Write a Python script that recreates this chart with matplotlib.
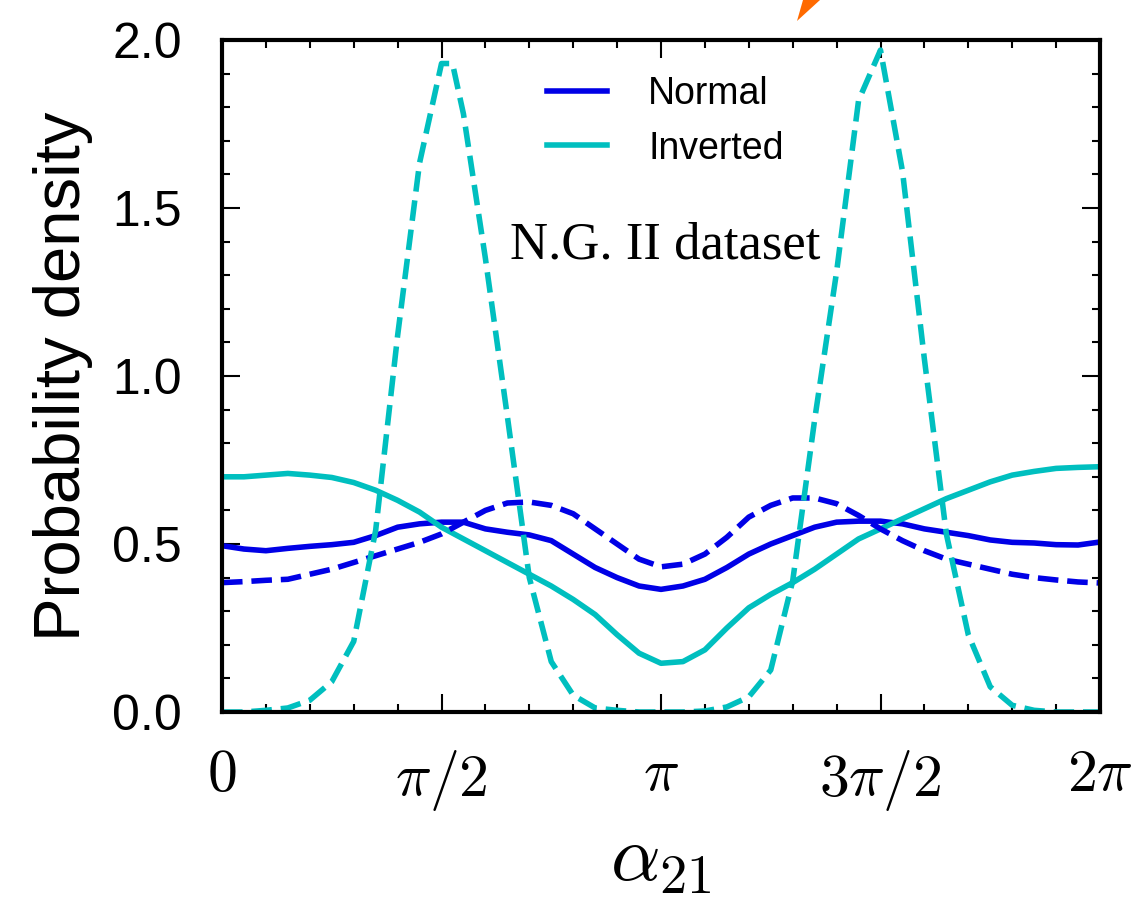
import numpy as np
import matplotlib
matplotlib.use("Agg")
import matplotlib.pyplot as plt
from matplotlib.patches import Polygon

plt.rcParams['font.family'] = ['Liberation Sans', 'DejaVu Sans']
plt.rcParams['mathtext.fontset'] = 'cm'

# grid index k -> alpha = k*pi/20
k = np.arange(41)
alpha = k * np.pi / 20

normal_solid = [0.495, 0.485, 0.48, 0.487, 0.493, 0.498, 0.505, 0.525, 0.55, 0.56,
                0.565, 0.565, 0.545, 0.535, 0.527, 0.51, 0.47, 0.43, 0.40, 0.375,
                0.365, 0.375, 0.395, 0.43, 0.47, 0.50, 0.525, 0.55, 0.565, 0.568,
                0.568, 0.56, 0.545, 0.535, 0.525, 0.512, 0.505, 0.503, 0.498, 0.497,
                0.506]
normal_dashed = [0.385, 0.388, 0.392, 0.395, 0.41, 0.425, 0.445, 0.465, 0.485, 0.505,
                 0.53, 0.565, 0.60, 0.622, 0.625, 0.615, 0.59, 0.545, 0.50, 0.455,
                 0.432, 0.44, 0.47, 0.52, 0.58, 0.615, 0.637, 0.637, 0.62, 0.585,
                 0.545, 0.51, 0.48, 0.455, 0.44, 0.425, 0.41, 0.40, 0.393, 0.387,
                 0.384]
inverted_solid = [0.70, 0.70, 0.705, 0.71, 0.705, 0.698, 0.683, 0.66, 0.63, 0.595,
                  0.55, 0.515, 0.48, 0.445, 0.41, 0.375, 0.335, 0.29, 0.23, 0.175,
                  0.145, 0.15, 0.185, 0.25, 0.31, 0.35, 0.385, 0.425, 0.47, 0.515,
                  0.545, 0.575, 0.605, 0.635, 0.66, 0.685, 0.705, 0.716, 0.725, 0.728,
                  0.73]
# inverted dashed sampled on a slightly finer grid near the first peak
k_inv_dashed = [0, 1, 2, 3, 4, 5, 6, 7, 8, 9, 10, 10.5, 11, 12, 13, 14, 15, 16, 17, 18,
                19, 20, 21, 22, 23, 24, 25, 26, 27, 28, 29, 30, 31, 32, 33, 34, 35, 36,
                37, 38, 39, 40]
inverted_dashed = [0.0, 0.0, 0.005, 0.012, 0.035, 0.09, 0.21, 0.54, 1.12, 1.634,
                   1.93, 1.93, 1.78, 1.35, 0.88, 0.40, 0.15, 0.05, 0.012, 0.005,
                   0.0, 0.0, 0.0, 0.003, 0.015, 0.045, 0.125, 0.39, 0.87, 1.31,
                   1.82, 1.97, 1.61, 1.05, 0.53, 0.23, 0.075, 0.02, 0.005, 0.0,
                   0.0, 0.0]
alpha_inv_dashed = np.array(k_inv_dashed) * np.pi / 20

xtick_vals = [0, np.pi / 2, np.pi, 3 * np.pi / 2, 2 * np.pi]
xtick_labels = [r'$0$', r'$\pi/2$', r'$\pi$', r'$3\pi/2$', r'$2\pi$']
ytick_vals = [0.0, 0.5, 1.0, 1.5, 2.0]

blue = (0.0, 0.0, 0.9)
cyan = (0.0, 0.75, 0.75)

fig = plt.figure(figsize=(11.32, 9.0), dpi=100)
ax = fig.add_axes([222 / 1132, 1 - 712 / 900, 878 / 1132, 672 / 900])

lw = 4.0
ax.plot(alpha, normal_solid, color=blue, lw=lw, label='Normal')
ax.plot(alpha, inverted_solid, color=cyan, lw=lw, label='Inverted')
ax.plot(alpha, normal_dashed, color=blue, lw=lw, ls='--')
ax.plot(alpha_inv_dashed, inverted_dashed, color=cyan, lw=lw, ls='--')

ax.set_xlim(0, 2 * np.pi)
ax.set_ylim(0, 2.0)
ax.set_xticks(xtick_vals)
ax.set_xticklabels(xtick_labels, fontsize=43)
ax.set_xticks(np.arange(0, 21) * np.pi / 10, minor=True)
ax.set_yticks(ytick_vals)
ax.set_yticklabels(['%.1f' % v for v in ytick_vals], fontsize=36)
ax.set_yticks(np.arange(0, 21) * 0.1, minor=True)

ax.tick_params(which='both', direction='in', top=True, right=True, width=1.5, colors='black')
ax.tick_params(which='major', length=13)
ax.tick_params(which='minor', length=6)
ax.tick_params(axis='y', which='major', pad=29)
ax.tick_params(axis='x', which='major', pad=26)
for sp in ax.spines.values():
    sp.set_linewidth(3.0)

ax.set_ylabel('Probability density', fontsize=47, labelpad=14)
ax.set_xlabel(r'$\alpha_{21}$', fontsize=56, labelpad=8)

leg = ax.legend(loc='upper center', bbox_to_anchor=(0.505, 0.997), frameon=False,
                fontsize=27, handlelength=1.6, handletextpad=1.1, labelspacing=0.5)

ax.text(2.061, 1.351, 'N.G. II dataset', family='Liberation Serif', fontsize=38,
        ha='left', va='baseline')

# clipped orange arrowhead at the top edge
fig.patches.append(Polygon([(797 / 1132, 1 - 21 / 900), (820 / 1132, 1.0), (803 / 1132, 1.0)],
                           closed=True, transform=fig.transFigure, facecolor='#ff6a00',
                           edgecolor='none'))

fig.savefig('out.png', dpi=100)
